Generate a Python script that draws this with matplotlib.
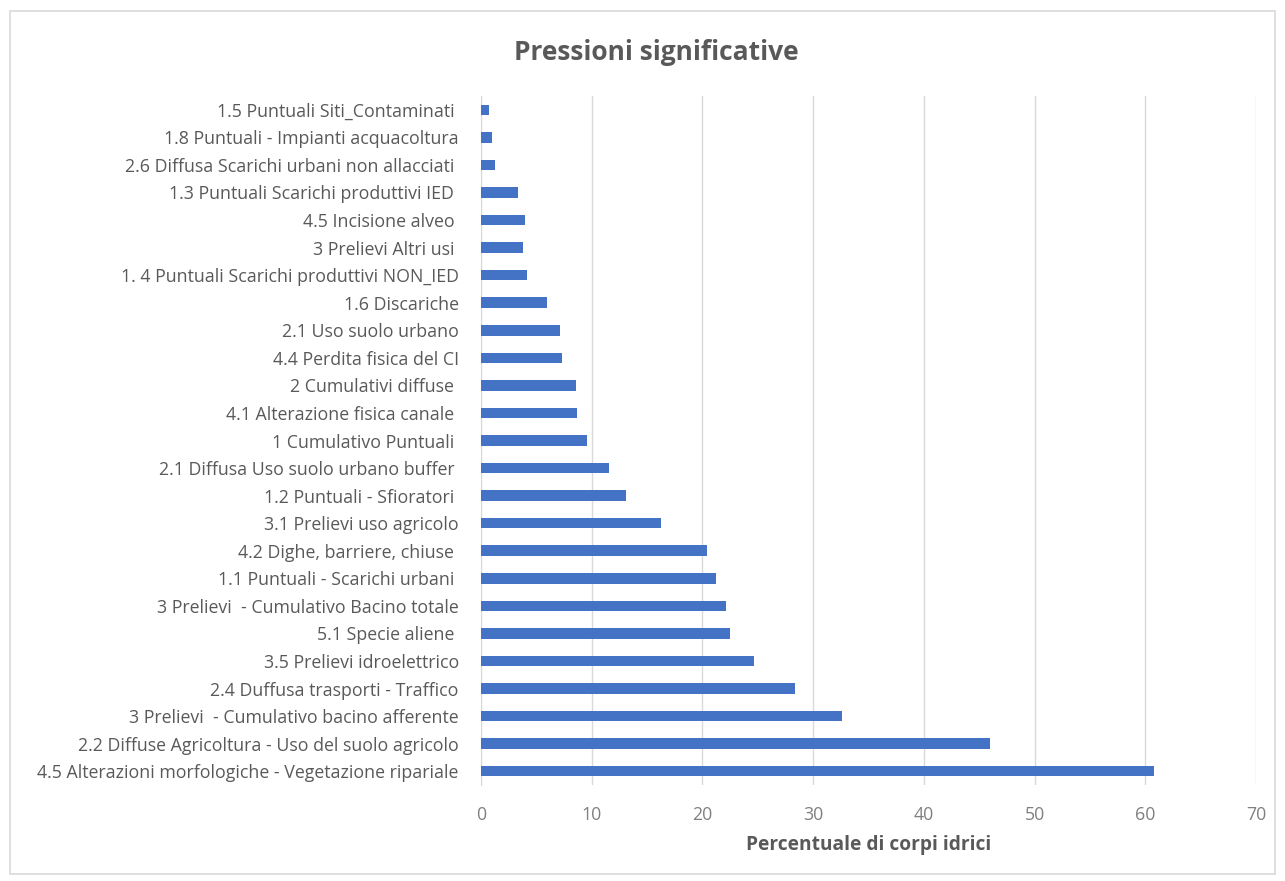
import matplotlib.pyplot as plt
from matplotlib.patches import Rectangle

plt.rcParams['font.family'] = ['Open Sans', 'DejaVu Sans']

# categorie, dall'alto verso il basso
categorie = [
    "1.5 Puntuali Siti_Contaminati ",
    "1.8 Puntuali - Impianti acquacoltura",
    "2.6 Diffusa Scarichi urbani non allacciati ",
    "1.3 Puntuali Scarichi produttivi IED ",
    "4.5 Incisione alveo ",
    "3 Prelievi Altri usi ",
    "1. 4 Puntuali Scarichi produttivi NON_IED",
    "1.6 Discariche",
    "2.1 Uso suolo urbano",
    "4.4 Perdita fisica del CI",
    "2 Cumulativi diffuse ",
    "4.1 Alterazione fisica canale ",
    "1 Cumulativo Puntuali ",
    "2.1 Diffusa Uso suolo urbano buffer ",
    "1.2 Puntuali - Sfioratori ",
    "3.1 Prelievi uso agricolo",
    "4.2 Dighe, barriere, chiuse ",
    "1.1 Puntuali - Scarichi urbani ",
    "3 Prelievi  - Cumulativo Bacino totale",
    "5.1 Specie aliene ",
    "3.5 Prelievi idroelettrico",
    "2.4 Duffusa trasporti - Traffico",
    "3 Prelievi  - Cumulativo bacino afferente",
    "2.2 Diffuse Agricoltura - Uso del suolo agricolo",
    "4.5 Alterazioni morfologiche - Vegetazione ripariale",
]
percentuali = [0.7, 1.0, 1.3, 3.3, 4.0, 3.8, 4.2, 6.0, 7.1, 7.35, 8.55, 8.7, 9.55,
               11.6, 13.1, 16.3, 20.4, 21.2, 22.1, 22.5, 24.7, 28.4, 32.6, 46.0, 60.8]
xticks = [0, 10, 20, 30, 40, 50, 60, 70]

grigio = '#595959'
blu = '#4472C4'

fig = plt.figure(figsize=(12.85, 8.81), dpi=100)
fig.patches.append(Rectangle((0.008, 0.008), 0.984, 0.98, transform=fig.transFigure,
                             fill=False, edgecolor='#D9D9D9', linewidth=1.2))

ax = fig.add_axes([0.3743, 0.109, 0.6031, 0.782])
n = len(categorie)
pos = list(range(n - 1, -1, -1))
ax.barh(pos, percentuali, height=0.38, color=blu, zorder=3)

ax.set_xlim(0, 70)
ax.set_ylim(-0.5, n - 0.5)
ax.set_xticks(xticks)
ax.set_yticks(pos)
ax.set_yticklabels(categorie)
ax.tick_params(axis='y', length=0, pad=16, labelsize=12.8, labelcolor=grigio)
ax.tick_params(axis='x', length=0, pad=15, labelsize=12.8, labelcolor='#808080')
ax.grid(axis='x', color='#D9D9D9', linewidth=1, zorder=0)
for s in ['top', 'right', 'bottom']:
    ax.spines[s].set_visible(False)
ax.spines['left'].set_color('#D9D9D9')

ax.set_xlabel('Percentuale di corpi idrici', fontsize=13.8, fontweight='bold',
              color=grigio, labelpad=8)
fig.text(0.511, 0.94, 'Pressioni significative', ha='center', va='center',
         fontsize=19, fontweight='bold', color=grigio)

fig.savefig('out.png', dpi=100)
